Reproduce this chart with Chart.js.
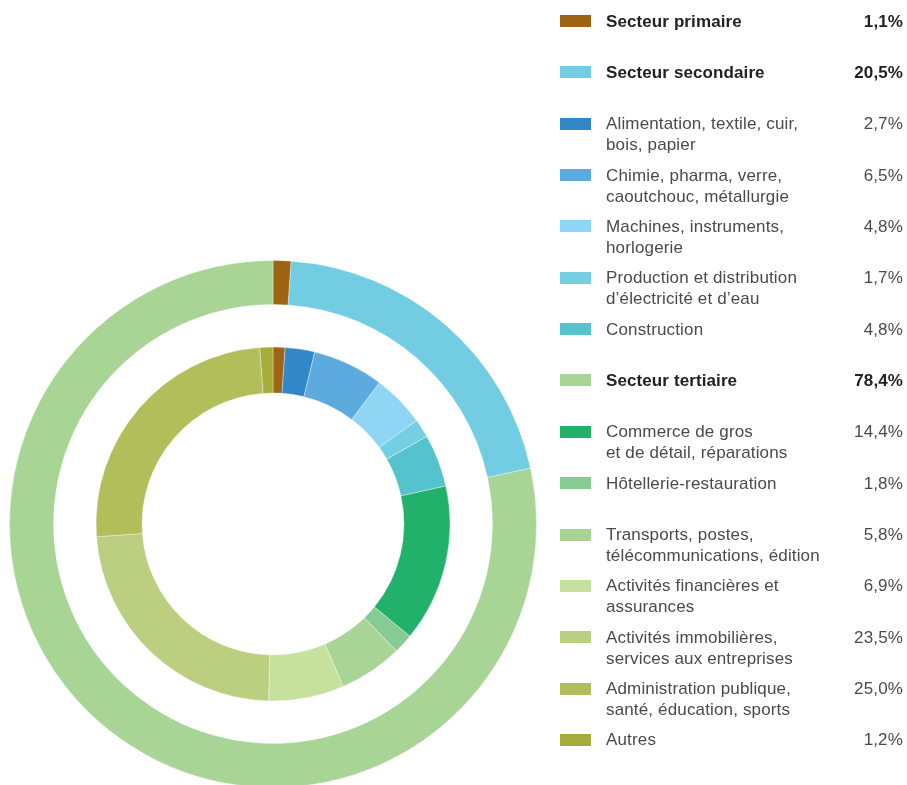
<!DOCTYPE html>
<html lang="fr">
<head>
<meta charset="utf-8">
<title>Emplois par secteur</title>
<script src="https://cdn.jsdelivr.net/npm/chart.js@4/dist/chart.umd.min.js"></script>
<style>
  html, body { margin: 0; padding: 0; background: #fff; }
  body { width: 907px; height: 785px; position: relative; overflow: hidden; font-family: "Liberation Sans", Helvetica, Arial, sans-serif; }
  #wrap { position: absolute; left: 0; top: 260px; width: 546px; height: 528px; }
  #legend { position: absolute; left: 0; top: 0; width: 907px; height: 785px; }
  .row { position: absolute; left: 560px; width: 343px; font-size: 17px; line-height: 21px; color: #4a4a4a; letter-spacing: 0.15px; }
  .row.bold { font-weight: bold; color: #222; letter-spacing: 0.1px; }
  .sw { position: absolute; left: 0; width: 31px; height: 12px; }
  .lbl { position: absolute; left: 46px; top: -4.5px; white-space: nowrap; }
  .val { position: absolute; right: 0; top: -4.5px; }
</style>
</head>
<body>
<div id="wrap"><canvas id="chart"></canvas></div>
<div id="legend"></div>
<script>
// outer ring: the three sectors
const sectorLabels = ['Secteur primaire', 'Secteur secondaire', 'Secteur tertiaire']
const sectorValues = [1.1, 20.5, 78.4]
const sectorColors = ['#9d6413', '#72cde2', '#a8d596']

// inner ring: primaire, then the branches of each sector
const branchLabels = [
  ['Secteur primaire'],
  ['Alimentation, textile, cuir,', 'bois, papier'],
  ['Chimie, pharma, verre,', 'caoutchouc, métallurgie'],
  ['Machines, instruments,', 'horlogerie'],
  ['Production et distribution', 'd’électricité et d’eau'],
  ['Construction'],
  ['Commerce de gros', 'et de détail, réparations'],
  ['Hôtellerie-restauration'],
  ['Transports, postes,', 'télécommunications, édition'],
  ['Activités financières et', 'assurances'],
  ['Activités immobilières,', 'services aux entreprises'],
  ['Administration publique,', 'santé, éducation, sports'],
  ['Autres'],
]
const branchValues = [1.1, 2.7, 6.5, 4.8, 1.7, 4.8, 14.4, 1.8, 5.8, 6.9, 23.5, 25.0, 1.2]
const branchColors = ['#9d6413', '#3287c8', '#5dabde', '#8fd6f5', '#74cfe3', '#55c3cd',
  '#21b16a', '#86cb93', '#a8d596', '#c6e09e', '#bccf80', '#b2be5a', '#a6ad3a']

// which branches sit under each sector in the legend
const sectorBranches = [[], [1, 2, 3, 4, 5], [6, 7, 8, 9, 10, 11, 12]]

const fmt = (v) => `${v.toFixed(1).replace('.', ',')}%`

const slice = { borderWidth: 1, borderColor: 'rgba(255,255,255,0.35)' }

new Chart(document.getElementById('chart'), {
  type: 'doughnut',
  data: {
    labels: branchLabels.map((l) => l.join(' ')),
    datasets: [
      { data: sectorValues, backgroundColor: sectorColors, weight: 44, ...slice },
      // blank ring between the two donuts
      { data: [1], backgroundColor: 'rgba(0,0,0,0)', borderWidth: 0, weight: 42.5 },
      { data: branchValues, backgroundColor: branchColors, weight: 46, ...slice },
    ],
  },
  options: {
    responsive: true,
    maintainAspectRatio: false,
    animation: false,
    cutout: '49.7%',
    layout: { padding: 0 },
    events: [],
    plugins: {
      legend: { display: false },
      tooltip: { enabled: false },
    },
  },
})

function esc(t) {
  const d = document.createElement('span')
  d.textContent = t
  return d.innerHTML
}

// legend on the right, one fixed slot per entry
const legend = document.getElementById('legend')
const rows = []
sectorLabels.forEach((label, s) => {
  rows.push({ lines: [label], value: sectorValues[s], color: sectorColors[s], bold: true })
  sectorBranches[s].forEach((b) => {
    rows.push({ lines: branchLabels[b], value: branchValues[b], color: branchColors[b], bold: false })
  })
})
rows.forEach((r, i) => {
  const row = document.createElement('div')
  row.className = r.bold ? 'row bold' : 'row'
  row.style.top = `${15 + i * 51.35}px`
  const sw = document.createElement('div')
  sw.className = 'sw'
  sw.style.background = r.color
  const lbl = document.createElement('div')
  lbl.className = 'lbl'
  lbl.innerHTML = r.lines.map(esc).join('<br>')
  const val = document.createElement('div')
  val.className = 'val'
  val.textContent = fmt(r.value)
  row.append(sw, lbl, val)
  legend.appendChild(row)
})
</script>
</body>
</html>
